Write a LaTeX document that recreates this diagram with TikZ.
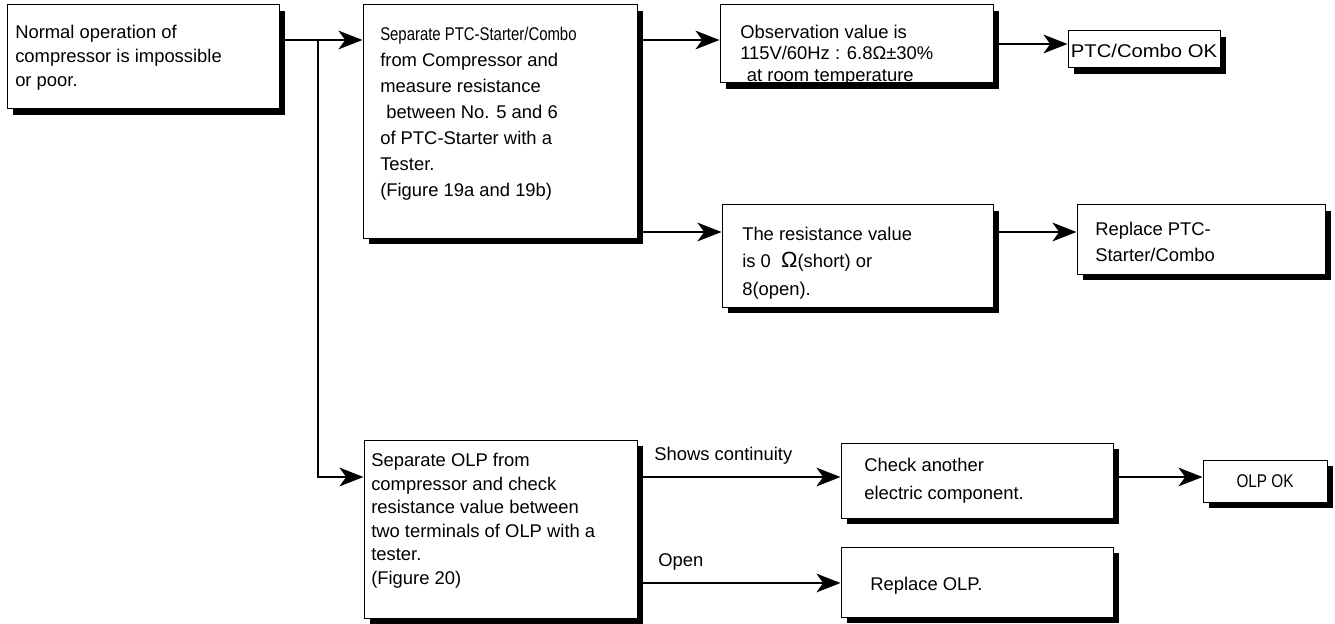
\documentclass[tikz,border=0pt]{standalone}
\usepackage{fontspec}
\setmainfont{Liberation Sans}
\usepackage{graphicx}
\usetikzlibrary{arrows.meta,fit,shadows}

\begin{document}
\begin{tikzpicture}[x=0.75pt,y=-0.75pt,
  every node/.style={font=\fontsize{13.8}{18}\selectfont},
  box/.style={draw,line width=0.75pt,fill=white,inner sep=0pt,drop shadow={shadow xshift=4.5pt,shadow yshift=-4.5pt,fill=black,opacity=1}},
  txt/.style={anchor=north west,inner sep=0pt,align=left,font=\fontsize{13.8}{#1}\selectfont},
  conn/.style={line width=1.5pt},
  arr/.style={conn,-{Stealth[length=18pt,width=14pt,inset=5pt]}}]
\useasboundingbox (0,0) rectangle (1335,624);
% rows of the connectors
\coordinate (r1) at (0,40); \coordinate (r2) at (0,44); \coordinate (r3) at (0,232);
\coordinate (r4) at (0,477); \coordinate (r5) at (0,583);
\coordinate (jn) at (318,40);
% boxes
\node[box,fit={(7,5) (279,109)}] (normal) {};
\node[txt=18] (normaltxt) at (15,25) {Normal operation of\\compressor is impossible\\or poor.};
\node[box,fit={(363,5) (637,238)}] (ptcsep) {};
\node[txt=19.5] (ptcseptxt) at (380,27) {\scalebox{0.81}[1]{Separate PTC-Starter/Combo}\\from Compressor and\\measure resistance\\\hspace*{4.5pt}between No. 5 and 6\\of PTC-Starter with a\\Tester.\\(Figure 19a and 19b)};
\node[box,fit={(720,5) (993,83)}] (obs) {};
\node[txt=16] (obstxt) at (740,25) {Observation value is\\115V/60Hz : 6.8Ω±30\%\\\hspace*{5pt}at room temperature};
\node[box,fit={(1068,31) (1220,68)}] (ptcok) {};
\node[inner sep=0pt,yshift=-1pt] (ptcoktxt) at (ptcok) {\scalebox{1.1}[1]{PTC/Combo OK}};
\node[box,fit={(722,205) (993,307)}] (resval) {};
\node[txt=20.5] (resvaltxt) at (742,227) {The resistance value\\is 0~~{\fontsize{16.5}{16.5}\selectfont Ω}(short) or\\8(open).};
\node[box,fit={(1077,205) (1325,274)}] (replptc) {};
\node[txt=19.5] (replptctxt) at (1095,222) {Replace PTC-\\Starter/Combo};
\node[box,fit={(364,440) (637,618)}] (olpsep) {};
\node[txt=17.7] (olpseptxt) at (371,453) {Separate OLP from\\compressor and check\\resistance value between\\two terminals of OLP with a\\tester.\\(Figure 20)};
\node[box,fit={(841,443) (1113,518)}] (chkother) {};
\node[txt=21] (chkothertxt) at (864,458) {Check another\\electric component.};
\node[box,fit={(1203,460) (1327,502)}] (olpok) {};
\node[inner sep=0pt] (olpoktxt) at (olpok) {\scalebox{0.83}[1]{OLP OK}};
\node[box,fit={(841,547) (1113,617)}] (replolp) {};
\node[txt=18] (replolptxt) at (870,577) {Replace OLP.};
% branch labels
\node[txt=18] (contlbl) at (654,447) {Shows continuity};
\node[txt=18] (openlbl) at (658,553) {Open};
% connectors
\draw[conn] (normal.east |- r1) -- (jn);
\draw[arr] (jn) -- (ptcsep.west |- r1);
\draw[arr] (jn) |- (olpsep.west |- r4);
\draw[arr] (ptcsep.east |- r1) -- (obs.west |- r1);
\draw[arr] (obs.east |- r2) -- (ptcok.west |- r2);
\draw[arr] (ptcsep.east |- r3) -- (resval.west |- r3);
\draw[arr] (resval.east |- r3) -- (replptc.west |- r3);
\draw[arr] (olpsep.east |- r4) -- (chkother.west |- r4);
\draw[arr] (chkother.east |- r4) -- (olpok.west |- r4);
\draw[arr] (olpsep.east |- r5) -- (replolp.west |- r5);
\end{tikzpicture}
\end{document}
